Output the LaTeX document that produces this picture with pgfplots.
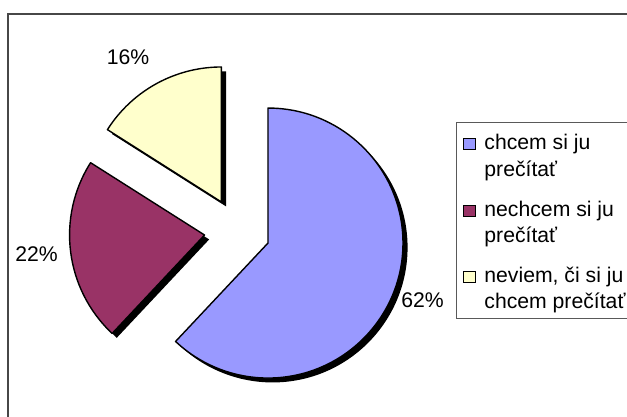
\documentclass[border=0pt]{standalone}
\usepackage{pgfplots}
\pgfplotsset{compat=1.18}
\usepackage{pgfplotstable}
\usepackage{fontspec}
\setmainfont{Liberation Sans}
\definecolor{sBlue}{HTML}{9999FF}
\definecolor{sRed}{HTML}{993366}
\definecolor{sYel}{HTML}{FFFFCC}
\pgfplotstableread{
pct
62
22
16
}\piedata
\begin{document}
\begin{tikzpicture}[font=\fontsize{10.6}{13}\selectfont]
\pgfplotstablegetelem{0}{pct}\of\piedata \pgfmathsetmacro\pieA{\pgfplotsretval}
\pgfplotstablegetelem{1}{pct}\of\piedata \pgfmathsetmacro\pieB{\pgfplotsretval}
\pgfplotstablegetelem{2}{pct}\of\piedata \pgfmathsetmacro\pieC{\pgfplotsretval}
\pgfmathsetmacro\angA{90}
\pgfmathsetmacro\angB{\angA-3.6*\pieA}
\pgfmathsetmacro\angC{\angB-3.6*\pieB}
\pgfmathsetmacro\angD{\angC-3.6*\pieC}
\pgfmathsetmacro\midA{(\angA+\angB)/2}
\pgfmathsetmacro\midB{(\angB+\angC)/2}
\pgfmathsetmacro\midC{(\angC+\angD)/2}
\def\R{67.5pt}
\def\D{16.5pt}
\begin{axis}[at={(0,0)}, anchor=south west, x=0.5pt, y=0.5pt,
  xmin=0, xmax=627, ymin=0, ymax=417, hide axis, clip=false]
% outer frame
\draw[black!72, line width=0.8pt] (axis cs:8,-30) -- (axis cs:8,403) -- (axis cs:680,403);
% shadows
\fill[black] ([xshift=2.3pt,yshift=-2.2pt]axis cs:237.3,186.1) ++(\midA:\D) -- ++(\angA:\R) arc[start angle=\angA, end angle=\angB, radius=\R] -- cycle;
\fill[black] ([xshift=2.3pt,yshift=-2.2pt]axis cs:237.3,186.1) ++(\midB:\D) -- ++(\angB:\R) arc[start angle=\angB, end angle=\angC, radius=\R] -- cycle;
\fill[black] ([xshift=2.3pt,yshift=-2.2pt]axis cs:237.3,186.1) ++(\midC:\D) -- ++(\angC:\R) arc[start angle=\angC, end angle=\angD, radius=\R] -- cycle;
% slices
\filldraw[fill=sBlue, draw=black, line width=0.7pt, line join=round] (axis cs:237.3,186.1) ++(\midA:\D) -- ++(\angA:\R) arc[start angle=\angA, end angle=\angB, radius=\R] -- cycle;
\filldraw[fill=sRed, draw=black, line width=0.7pt, line join=round] (axis cs:237.3,186.1) ++(\midB:\D) -- ++(\angB:\R) arc[start angle=\angB, end angle=\angC, radius=\R] -- cycle;
\filldraw[fill=sYel, draw=black, line width=0.7pt, line join=round] (axis cs:237.3,186.1) ++(\midC:\D) -- ++(\angC:\R) arc[start angle=\angC, end angle=\angD, radius=\R] -- cycle;
% percentage labels
\node[anchor=base, inner sep=0pt] at (axis cs:128,352) {16\%};
\node[anchor=base, inner sep=0pt] at (axis cs:36.5,155) {22\%};
\node[anchor=base, inner sep=0pt] at (axis cs:422.5,109) {62\%};
% legend
\draw[black!65, line width=0.5pt] (axis cs:680,294) -- (axis cs:456.5,294) -- (axis cs:456.5,98) -- (axis cs:680,98);
\filldraw[fill=sBlue, draw=black, line width=0.6pt] (axis cs:463.5,267.5) rectangle (axis cs:475.5,278.5);
\filldraw[fill=sRed, draw=black, line width=0.6pt] (axis cs:463.5,200.5) rectangle (axis cs:475.5,211.5);
\filldraw[fill=sYel, draw=black, line width=0.6pt] (axis cs:463.5,134.5) rectangle (axis cs:475.5,145.5);
\node[anchor=base west, inner sep=0pt] at (axis cs:484,267) {chcem si ju};
\node[anchor=base west, inner sep=0pt] at (axis cs:484,240.5) {prečítať};
\node[anchor=base west, inner sep=0pt] at (axis cs:484,200) {nechcem si ju};
\node[anchor=base west, inner sep=0pt] at (axis cs:484,174) {prečítať};
\node[anchor=base west, inner sep=0pt] at (axis cs:484,134) {neviem, či si ju};
\node[anchor=base west, inner sep=0pt] at (axis cs:484,108) {chcem prečítať};
\end{axis}
\pgfresetboundingbox
\useasboundingbox (0,0) rectangle (313.5pt,208.5pt);
\end{tikzpicture}
\end{document}
